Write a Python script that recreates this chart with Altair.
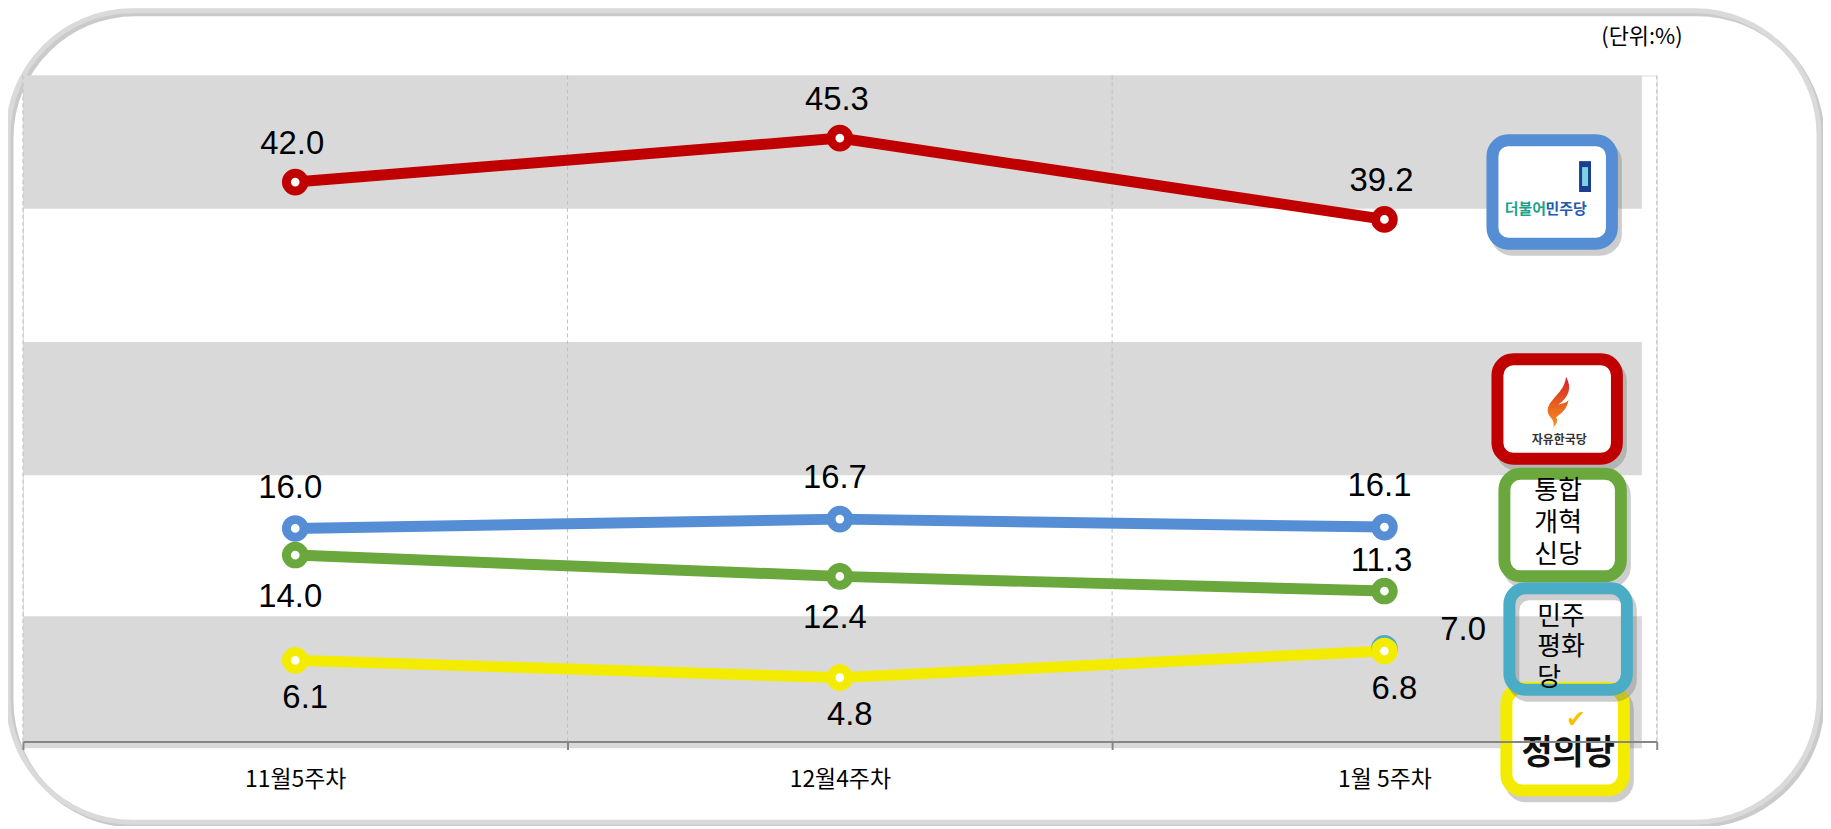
import altair as alt
import pandas as pd

# ---------------- data ----------------
weeks = ["11월5주차", "12월4주차", "1월 5주차"]
parties = ["더불어민주당", "자유한국당", "통합개혁신당", "민주평화당", "정의당"]
values = {
    "더불어민주당": [42.0, 45.3, 39.2],
    "자유한국당": [16.0, 16.7, 16.1],
    "통합개혁신당": [14.0, 12.4, 11.3],
    "민주평화당": [None, None, 7.0],
    "정의당": [6.1, 4.8, 6.8],
}
label_side = {
    "더불어민주당": ["above", "above", "above"],
    "자유한국당": ["above", "above", "above"],
    "통합개혁신당": ["below", "below", "above"],
    "민주평화당": [None, None, "right"],
    "정의당": ["below", "below", "below"],
}
line_colors = ["#C00000", "#558ED5", "#6AA83E", "#4BACC6", "#F4EC00"]
bands = [(40, 50), (20, 30), (-0.5, 9.4)]
unit_label = "(단위:%)"

# ---------------- styles / layout ----------------
PX0, PY0 = 23, 74          # plot origin on the page
PLOT_W, PLOT_H = 1641, 669
label_offsets = {           # (dx, dy) of the value labels, by party and side
    ("더불어민주당", "above"): (-3, -28),
    ("자유한국당", "above"): (-5, -31),
    ("통합개혁신당", "below"): (-5, 52),
    ("통합개혁신당", "above"): (-3, -20),
    ("정의당", "below"): (10, 48),
    ("민주평화당", "right"): (79, -8),
}
NUM_FONT = "Liberation Sans"
KR_FONT = "Noto Sans CJK KR"


def rx(x):
    return x - PX0


def ry(y):
    return y - PY0


one = alt.Data(values=[{"k": 0}])


def rect(x0, y0, x1, y1, **mk):
    return alt.Chart(one).mark_rect(**mk).encode(
        x=alt.value(rx(x0)), x2=alt.value(rx(x1)),
        y=alt.value(ry(y0)), y2=alt.value(ry(y1)))


def text(x, y, s, **mk):
    return alt.Chart(one).mark_text(text=s, **mk).encode(
        x=alt.value(rx(x)), y=alt.value(ry(y)))


rows = []
for p in parties:
    for w, v, s in zip(weeks, values[p], label_side[p]):
        if v is not None:
            rows.append({"party": p, "week": w, "value": v, "side": s,
                         "label": f"{v:.1f}"})
df = pd.DataFrame(rows)

band_df = pd.DataFrame(bands, columns=["lo", "hi"])
week_df = pd.DataFrame({"week": weeks})
last_df = pd.DataFrame({"week": weeks[-1:]})

yscale = alt.Scale(domain=[0, 50], nice=False, zero=True)
xscale = alt.Scale(type="band", domain=weeks, paddingInner=0, paddingOuter=0)
xaxis = alt.Axis(title=None, labelAngle=0, labelFont=KR_FONT, labelFontSize=23,
                 labelColor="#000000", labelPadding=30, labelBaseline="middle",
                 domainColor="#868686", domainWidth=2, tickColor="#868686",
                 tickWidth=2, tickSize=8, tickBand="extent", grid=False, zindex=1)


def xenc(bp=None):
    if bp is None:
        return alt.X("week:N", sort=weeks, scale=xscale, axis=xaxis)
    return alt.X("week:N", sort=weeks, scale=xscale, axis=xaxis, bandPosition=bp)


yenc = alt.Y("value:Q", scale=yscale, axis=None)
cscale = alt.Scale(domain=parties, range=line_colors)

layers = []

# outer frame
layers.append(rect(11, 12, 1830, 827, filled=False, stroke="#b3b3b3",
                   strokeWidth=5, cornerRadius=125, opacity=0.7))
layers.append(rect(8, 9, 1827, 824, filled=False, stroke="#dadada",
                   strokeWidth=5, cornerRadius=125))

# striped bands
layers.append(alt.Chart(band_df).mark_rect(color="#d9d9d9").encode(
    x=alt.value(0), x2=alt.value(rx(1649)),
    y=alt.Y("lo:Q", scale=yscale, axis=None), y2="hi:Q"))

# dashed vertical gridlines on the category boundaries
layers.append(alt.Chart(week_df).mark_rule(color="#bfbfbf", strokeDash=[4, 3],
                                           strokeWidth=1).encode(x=xenc(0)))
layers.append(alt.Chart(last_df).mark_rule(color="#bfbfbf", strokeDash=[4, 3],
                                           strokeWidth=1).encode(x=xenc(1)))

# lines and markers
layers.append(alt.Chart(df).mark_line(strokeWidth=11).encode(
    x=xenc(), y=yenc,
    color=alt.Color("party:N", scale=cscale, legend=None)))
layers.append(alt.Chart(df).mark_point(shape="circle", filled=True, fill="white",
                                       size=314, strokeWidth=9, opacity=1).encode(
    x=xenc(), y=yenc,
    stroke=alt.Stroke("party:N", scale=cscale, legend=None)))

# value labels
for (p, side), (dx, dy) in label_offsets.items():
    layers.append(alt.Chart(df).transform_filter(
        (alt.datum.party == p) & (alt.datum.side == side)).mark_text(
        font=NUM_FONT, fontSize=33, color="#000000", baseline="alphabetic",
        align="center", dx=dx, dy=dy).encode(x=xenc(), y=yenc, text="label:N"))

# unit label
layers.append(text(1690, 35, unit_label, font=KR_FONT, fontSize=22,
                   align="right", baseline="middle", color="#000000"))

# ---------------- party logo boxes (legend) ----------------
boxes = [
    ("더불어민주당", (1493, 133, 1625, 249), "#558ED5", "white"),
    ("자유한국당", (1498, 353, 1630, 465), "#C00000", "white"),
    ("통합개혁신당", (1505, 468, 1634, 583), "#6AA83E", "white"),
    ("정의당", (1507, 683, 1637, 798), "#F4EC00", "white"),
    ("민주평화당", (1510, 583, 1640, 697), "#4BACC6", None),
]
SW = 12


def box_layers(outer, color, fill):
    x0, y0, x1, y1 = outer
    h = SW / 2
    out = [rect(x0 + h + 4, y0 + h + 6, x1 - h + 4, y1 - h + 6, filled=False,
                stroke="#6f6f6f", strokeWidth=SW, cornerRadius=16, opacity=0.35)]
    if fill:
        out.append(rect(x0 + h, y0 + h, x1 - h, y1 - h, fill=fill, stroke=color,
                        strokeWidth=SW, cornerRadius=16))
    else:
        out.append(rect(x0 + h, y0 + h, x1 - h, y1 - h, filled=False, stroke=color,
                        strokeWidth=SW, cornerRadius=16))
    return out


for name, outer, color, fill in boxes[:4]:
    layers += box_layers(outer, color, fill)

# 더불어민주당 logo
layers.append(text(1532, 208, "더불어", font=KR_FONT, fontSize=15, fontWeight="bold",
                   color="#1AA38A", baseline="middle"))
layers.append(text(1573, 208, "민주당", font=KR_FONT, fontSize=15, fontWeight="bold",
                   color="#1F5CB0", baseline="middle"))
layers.append(rect(1586, 160, 1598, 191, fill="#1B3F8F"))
layers.append(rect(1589, 166, 1595, 185, fill="#7FD0E0"))

# 자유한국당 logo
flame = ("M0.35,-1 C0.6,-0.55 0.45,-0.2 0.05,0.1 C0.3,0.05 0.4,0 0.45,-0.1 "
         "C0.4,0.3 0.1,0.5 -0.05,0.6 C0.05,0.7 0,0.85 -0.15,1 C-0.1,0.8 -0.2,0.65 "
         "-0.3,0.55 C-0.45,0.35 -0.35,0.1 -0.2,-0.05 C-0.05,-0.3 0.3,-0.5 0.35,-1 Z")
layers.append(alt.Chart(one).mark_point(
    shape=flame, filled=True, size=2600, strokeWidth=0, opacity=1,
    fill=alt.Gradient(gradient="linear", x1=0, y1=0, x2=0, y2=1,
                      stops=[alt.GradientStop(color="#D41F26", offset=0),
                             alt.GradientStop(color="#F7941D", offset=1)])).encode(
    x=alt.value(rx(1564)), y=alt.value(ry(402))))
layers.append(text(1566, 440, "자유한국당", font=KR_FONT, fontSize=12,
                   fontWeight="bold", color="#333333", baseline="middle"))

# 통합개혁신당
layers.append(text(1565, 491, "통합\n개혁\n신당", font=KR_FONT, fontSize=26,
                   lineBreak="\n", lineHeight=32.5, baseline="middle",
                   color="#000000"))

# 정의당 logo
layers.append(text(1583, 721, "✔", font="DejaVu Sans", fontSize=24,
                   color="#F5C400", baseline="middle"))
layers.append(text(1575, 756, "정의당", font=KR_FONT, fontSize=34,
                   fontWeight="bold", color="#111111", baseline="middle"))

# 민주평화당 box on top
layers += box_layers(boxes[4][1], boxes[4][2], boxes[4][3])
layers.append(text(1544, 618, "민주\n평화\n당", font=KR_FONT, fontSize=26,
                   lineBreak="\n", lineHeight=30.5, baseline="middle",
                   align="left", color="#000000"))

chart = alt.layer(*layers).properties(
    width=PLOT_W, height=PLOT_H,
    autosize=alt.AutoSizeParams(type="none"),
    padding={"left": 15, "top": 66, "right": 167, "bottom": 83},
).configure_view(stroke=None).configure(background="white")

chart.save("out.html", embed_options={"renderer": "svg", "actions": False})
